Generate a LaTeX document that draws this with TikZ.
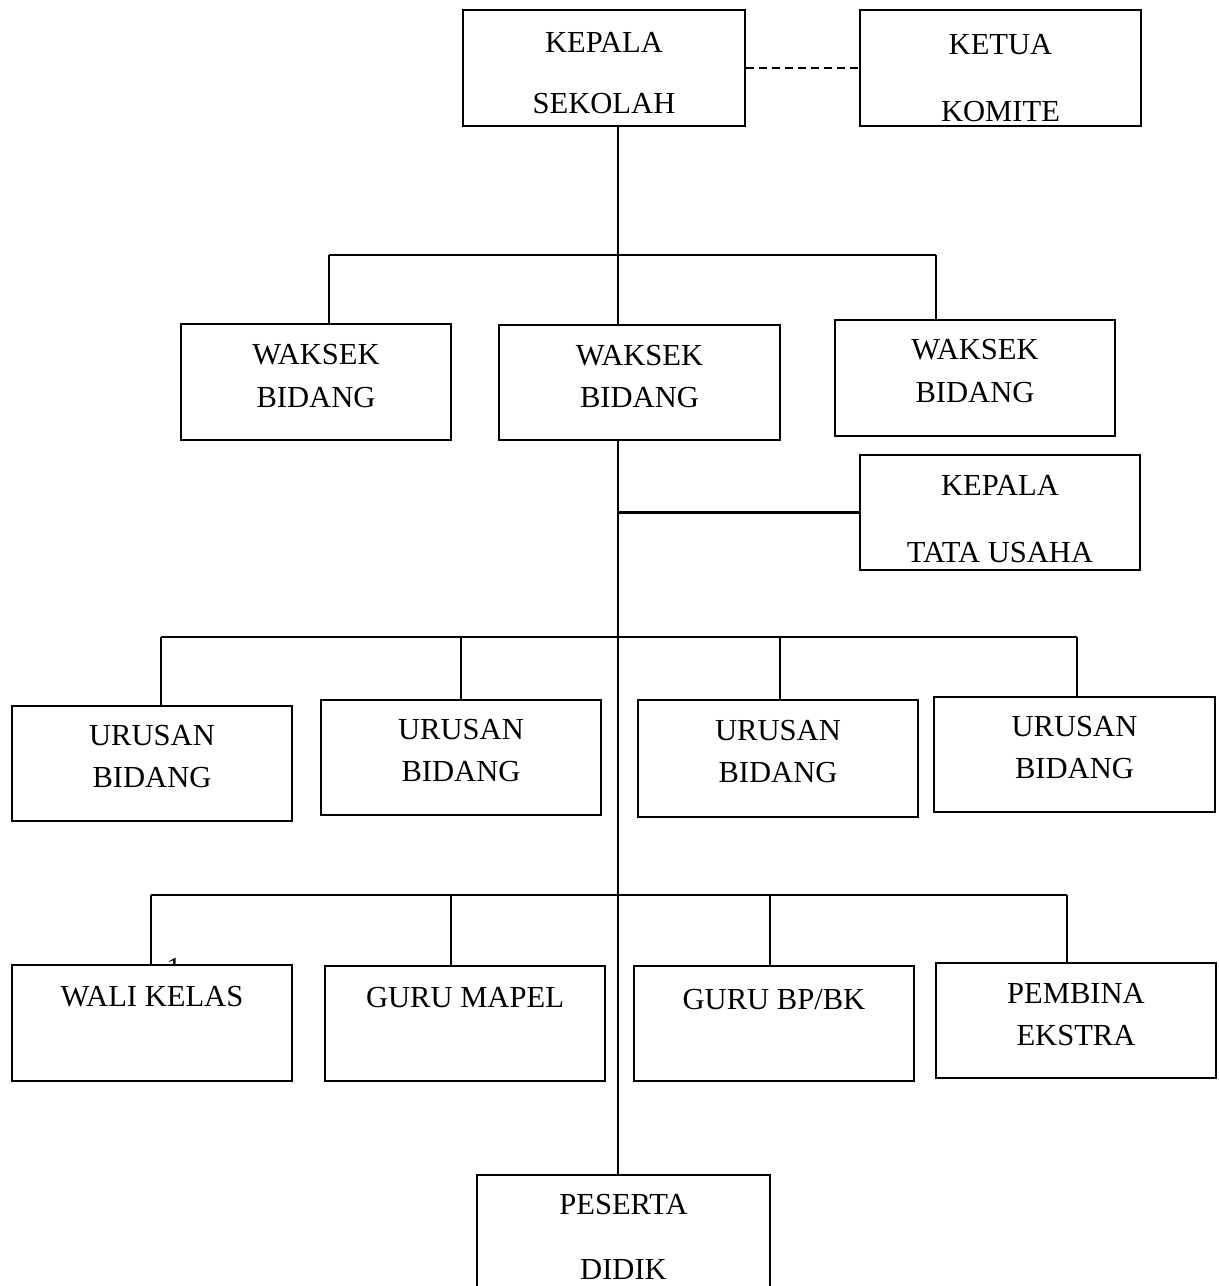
\documentclass[tikz,border=0pt]{standalone}
\usepackage{fontspec}
\setmainfont{Liberation Serif}
\usetikzlibrary{calc}

\begin{document}
\begin{tikzpicture}[line width=0.6pt, font=\fontsize{8.7}{12}\selectfont]
        \tikzset{
            blk/.style={draw, rectangle, minimum width=2.8cm,
                        minimum height=1.16cm, inner sep=0pt},
            lbl/.style={align=center, inner sep=0pt}
        }
        \useasboundingbox (0,0) rectangle (12.19,-12.86);
        %% ---- Pimpinan ----
        \node[blk, minimum width=2.82cm] (kepsek) at (6.04,-0.68) {};
        \node[lbl, yshift=-0.05cm] (kepsekt) at (kepsek) {KEPALA\\[5.6pt]SEKOLAH};
        \node[blk, minimum width=2.81cm] (komite) at (10.005,-0.68) {};
        \node[lbl, yshift=-0.10cm] (komitet) at (komite) {KETUA\\[7.3pt]KOMITE};
        \draw[dash pattern=on 0.08cm off 0.05cm] (kepsek.east) -- (komite.west);
        %% ---- Wakil kepala sekolah ----
        \node[blk, minimum width=2.70cm] (wk1) at (3.16,-3.82) {};
        \node[lbl, yshift=0.06cm] (wk1t) at (wk1) {WAKSEK\\BIDANG};
        \node[blk, minimum width=2.81cm, minimum height=1.15cm] (wk2) at (6.395,-3.825) {};
        \node[lbl, yshift=0.06cm] (wk2t) at (wk2) {WAKSEK\\BIDANG};
        \node[blk] (wk3) at (9.75,-3.78) {};
        \node[lbl, yshift=0.07cm] (wk3t) at (wk3) {WAKSEK\\BIDANG};
        \coordinate (b1l) at (3.29,-2.55);
        \coordinate (b1m) at (6.18,-2.55);
        \coordinate (b1r) at (9.36,-2.55);
        \draw (kepsek.south -| b1m) -- (b1m);
        \draw (b1l) -- (b1r);
        \draw (b1l) -- (b1l |- wk1.north);
        \draw (b1m) -- (b1m |- wk2.north);
        \draw (b1r) -- (b1r |- wk3.north);
        %% ---- Tata usaha ----
        \node[blk, minimum height=1.15cm] (tu) at (10.0,-5.125) {};
        \node[lbl, yshift=-0.065cm] (tut) at (tu) {KEPALA\\[7.3pt]TATA USAHA};
        \draw (b1m |- tu.west) -- (tu.west);
        %% ---- Urusan ----
        \node[blk, minimum height=1.15cm] (ur1) at (1.52,-7.635) {};
        \node[lbl, yshift=0.07cm] (ur1t) at (ur1) {URUSAN\\BIDANG};
        \node[blk, minimum height=1.15cm] (ur2) at (4.61,-7.575) {};
        \node[lbl, yshift=0.07cm] (ur2t) at (ur2) {URUSAN\\BIDANG};
        \node[blk, minimum height=1.17cm] (ur3) at (7.78,-7.585) {};
        \node[lbl, yshift=0.07cm] (ur3t) at (ur3) {URUSAN\\BIDANG};
        \node[blk, minimum width=2.81cm, minimum height=1.15cm] (ur4) at (10.745,-7.545) {};
        \node[lbl, yshift=0.07cm] (ur4t) at (ur4) {URUSAN\\BIDANG};
        \coordinate (b2l) at (1.61,-6.37);
        \coordinate (b2a) at (4.61,-6.37);
        \coordinate (b2b) at (7.80,-6.37);
        \coordinate (b2r) at (10.77,-6.37);
        \draw (b2l) -- (b2r);
        \draw (b2l) -- (b2l |- ur1.north);
        \draw (b2a) -- (b2a |- ur2.north);
        \draw (b2b) -- (b2b |- ur3.north);
        \draw (b2r) -- (b2r |- ur4.north);
        %% ---- Guru ----
        \node[blk] (wali) at (1.52,-10.23) {};
        \node[lbl, yshift=0.26cm] (walit) at (wali) {WALI KELAS};
        \node[blk, minimum height=1.15cm] (mapel) at (4.65,-10.235) {};
        \node[lbl, yshift=0.26cm] (mapelt) at (mapel) {GURU MAPEL};
        \node[blk, minimum height=1.15cm] (bpbk) at (7.74,-10.235) {};
        \node[lbl, yshift=0.235cm] (bpbkt) at (bpbk) {GURU BP/BK};
        \node[blk, minimum height=1.15cm] (ekstra) at (10.76,-10.205) {};
        \node[lbl, yshift=0.06cm] (ekstrat) at (ekstra) {PEMBINA\\EKSTRA};
        \coordinate (b3l) at (1.51,-8.95);
        \coordinate (b3a) at (4.51,-8.95);
        \coordinate (b3b) at (7.70,-8.95);
        \coordinate (b3r) at (10.67,-8.95);
        \draw (b3l) -- (b3r);
        \draw (b3l) -- (b3l |- wali.north);
        \draw (b3a) -- (b3a |- mapel.north);
        \draw (b3b) -- (b3b |- bpbk.north);
        \draw (b3r) -- (b3r |- ekstra.north);
        \begin{scope}
            \clip (1.5,-9.40) rectangle (2.0,-9.655);
            \node[lbl] (satu) at (1.74,-9.68) {1};
        \end{scope}
        %% ---- Peserta didik ----
        \node[blk, minimum width=2.93cm, minimum height=1.2cm] (siswa) at (6.235,-12.35) {};
        \node[lbl, yshift=-0.02cm] (siswat) at (siswa) {PESERTA\\[6.6pt]DIDIK};
        \draw (wk2.south -| b1m) -- (siswa.north -| b1m);
    \end{tikzpicture}
\end{document}
